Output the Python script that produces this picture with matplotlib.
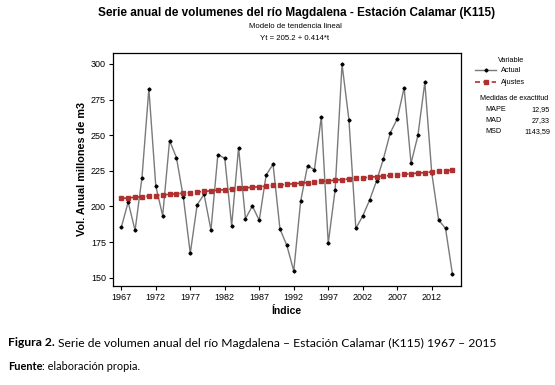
import matplotlib
matplotlib.use("Agg")
import matplotlib.pyplot as plt
import numpy as np

years = list(range(1967, 2016))
actual = [185.3, 203.1, 183.2, 220.2, 282.7, 214.4, 193.5, 246.2, 234.2, 206.4,
          167.1, 201.2, 208.5, 183.5, 236.4, 233.8, 186.5, 241.3, 191.4, 200.3,
          190.3, 222.1, 229.6, 184.2, 172.7, 154.7, 203.6, 228.6, 225.8, 263.0,
          174.1, 211.8, 299.8, 260.7, 184.6, 193.3, 204.5, 217.9, 233.5, 251.8,
          261.4, 283.4, 230.3, 249.9, 287.1, 223.7, 190.5, 184.6, 152.6]
# trend model shown in the chart title: Yt = 205.2 + 0.414*t
b0, b1 = 205.2, 0.414
t = np.arange(1, len(years) + 1)
fitted = b0 + b1 * t

xticks = list(range(1967, 2016, 5))
yticks = [150, 175, 200, 225, 250, 275, 300]
metrics = [("MAPE", "12,95"), ("MAD", "27,33"), ("MSD", "1143,59")]

plt.rcParams['font.family'] = ['Liberation Sans', 'DejaVu Sans']

W, H = 555, 385
fig = plt.figure(figsize=(W / 100, H / 100), dpi=100)
ax = fig.add_axes([113 / W, 1 - 285.7 / H, 347.7 / W, 232.7 / H])

ax.plot(years, actual, color='#7a7a7a', lw=1.0, marker='D', ms=1.6,
        mfc='black', mec='black', label='Actual')
ax.plot(years, fitted, color='#b03030', lw=1.2, ls=(0, (3, 2)), marker='s', ms=2.2,
        mfc='#b03030', mec='#b03030', label='Ajustes')

ax.set_xlim(1965.8, 2016.2)
ax.set_ylim(144.4, 307.7)
ax.set_xticks(xticks)
ax.set_yticks(yticks)
ax.tick_params(direction='out', length=3, width=0.8, labelsize=6.5, pad=2)
for s in ax.spines.values():
    s.set_linewidth(0.9)

ax.set_xlabel('Índice', fontsize=7.5, fontweight='bold', labelpad=3)
ax.set_ylabel('Vol. Anual millones de m3', fontsize=7.8, fontweight='bold', labelpad=3)

fig.text(297 / W, 1 - 13 / H, 'Serie anual de volumenes del río Magdalena - Estación Calamar (K115)',
         ha='center', va='center', fontsize=8.5, fontweight='bold')
fig.text(295 / W, 1 - 27 / H, 'Modelo de tendencia lineal', ha='center', va='center', fontsize=5.6)
fig.text(295 / W, 1 - 39 / H, 'Yt = %.1f + %.3f*t' % (b0, b1), ha='center', va='center', fontsize=5.6)

# legend, outside the axes on the right
fig.text(498 / W, 1 - 60 / H, 'Variable', fontsize=5.3, va='center')
ax.legend(loc='upper left', bbox_to_anchor=(475 / W, 1 - 67 / H), bbox_transform=fig.transFigure,
          frameon=False, fontsize=5.3, handlelength=2.9, borderaxespad=0, borderpad=0,
          labelspacing=0.7, handletextpad=0.6)

fig.text(480 / W, 1 - 99 / H, 'Medidas de exactitud', fontsize=5.2, va='center')
for i, (name, val) in enumerate(metrics):
    y = 1 - (109.5 + i * 11) / H
    fig.text(485 / W, y, name, fontsize=5.2, va='center')
    fig.text(550 / W, y, val, fontsize=5.2, va='center', ha='right')

# caption below the chart
fig.canvas.draw()
r = fig.canvas.get_renderer()
t1 = fig.text(8 / W, 1 - 343 / H, 'Figura 2.', fontsize=8.7, va='center', family='Lato', fontweight='bold')
bb = t1.get_window_extent(r)
fig.text(bb.x1 / W + 3 / W, 1 - 343 / H,
         'Serie de volumen anual del río Magdalena – Estación Calamar (K115) 1967 – 2015',
         fontsize=8.7, va='center', family='Lato')
t2 = fig.text(8 / W, 1 - 366 / H, 'Fuente', fontsize=7.9, va='center', family='Lato', fontweight='bold')
bb = t2.get_window_extent(r)
fig.text(bb.x1 / W, 1 - 366 / H, ': elaboración propia.', fontsize=7.9, va='center', family='Lato')

fig.savefig('out.png', dpi=100)
